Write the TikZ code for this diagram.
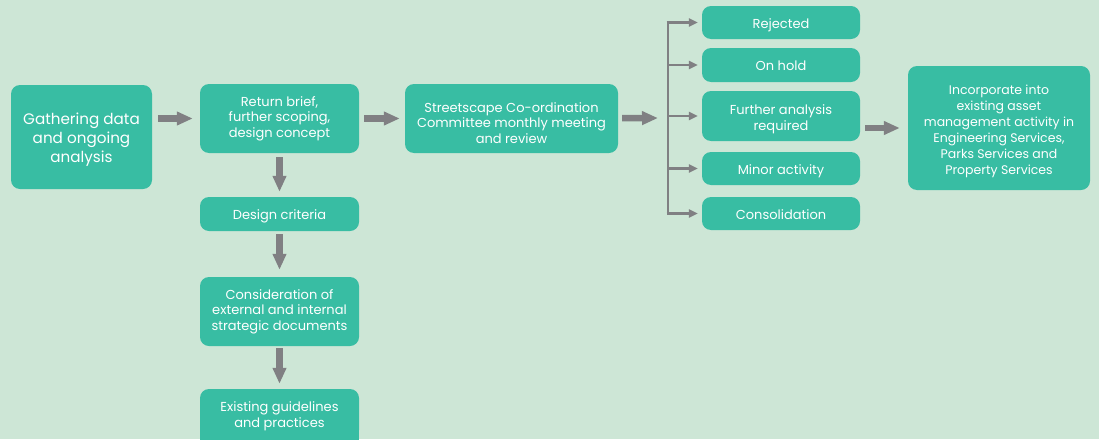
\documentclass[tikz,border=0pt]{standalone}
\usepackage{fontspec}
\setmainfont{Poppins}
\usetikzlibrary{arrows.meta}
\definecolor{bg}{HTML}{CDE6D6}
\definecolor{boxc}{HTML}{38BDA3}
\definecolor{arr}{HTML}{808083}
\newcommand\dn[1]{\rule{0pt}{#1}}
\tikzset{
  box/.style={fill=boxc, rounded corners=9pt, text=white, align=center,
    font=\fontsize{13}{15.7}\selectfont, inner sep=2pt},
  oneline/.style={text height=13.5pt, text depth=2.5pt},
  bigarrow/.style={draw=arr, line width=6.5pt, -{Triangle[length=16pt,width=13pt]}},
  thinarrow/.style={draw=arr, line width=2.6pt, -{Triangle[length=9pt,width=8pt]}},
  busline/.style={draw=arr, line width=2.6pt},
}
\begin{document}
\begin{tikzpicture}[x=1pt,y=-1pt]
\fill[bg] (0,0) rectangle (1099,439);
\useasboundingbox (0,0) rectangle (1099,439);

\node[box, minimum width=141pt, minimum height=104pt, font=\fontsize{15.2}{19.2}\selectfont] (gather) at (81.5,137) {\dn{17pt}Gathering data\\and ongoing\\analysis};
\node[box, minimum width=159pt, minimum height=69pt] (ret) at (279.5,118.5) {Return brief,\\further scoping,\\design concept};
\node[box, oneline, minimum width=159pt, minimum height=34pt] (crit) at (279.5,214) {Design criteria};
\node[box, minimum width=159pt, minimum height=69pt] (cons) at (279.5,311.5) {Consideration of\\external and internal\\strategic documents};
\fill[boxc] (200,414) rectangle (359,445);
\node[box, minimum width=159pt, minimum height=50pt] (exist) at (279.5,414) {\dn{14pt}Existing guidelines\\and practices};

\node[box, minimum width=213pt, minimum height=69pt] (street) at (511.5,118.5) {\dn{19pt}Streetscape Co-ordination\\Committee monthly meeting\\and review};

\node[box, oneline, minimum width=158pt, minimum height=33pt] (rej) at (781,22.5) {Rejected};
\node[box, oneline, minimum width=158pt, minimum height=34pt] (hold) at (781,65) {On hold};
\node[box, minimum width=158pt, minimum height=50pt] (fur) at (781,116) {\dn{16pt}Further analysis\\required};
\node[box, oneline, minimum width=158pt, minimum height=33pt] (minor) at (781,168.5) {Minor activity};
\node[box, oneline, minimum width=158pt, minimum height=33pt] (consol) at (781,213.5) {Consolidation};

\node[box, minimum width=182pt, minimum height=124pt, font=\fontsize{12.5}{16}\selectfont] (inc) at (999,128) {\dn{16pt}Incorporate into\\existing asset\\management activity in\\Engineering Services,\\Parks Services and\\Property Services};

\draw[bigarrow, shorten <=6pt, shorten >=7pt] (gather.east |- ret) -- (ret);
\draw[bigarrow, shorten <=5pt, shorten >=5pt] (ret) -- (street);
\draw[bigarrow, shorten <=4pt, shorten >=5pt] (ret) -- (crit);
\draw[bigarrow, shorten <=3pt, shorten >=7pt] (crit) -- (cons);
\draw[bigarrow, shorten <=2pt, shorten >=5pt] (cons) -- (exist);

\coordinate (bus) at (668,118);
\draw[bigarrow, shorten <=4pt, shorten >=10pt] (street) -- (bus);
\draw[busline] (bus |- rej) -- (bus |- consol);
\draw[thinarrow, shorten >=4pt] ([xshift=-1.3pt]bus |- rej) -- (rej);
\draw[thinarrow, shorten >=4pt] (bus |- hold) -- (hold);
\draw[thinarrow, shorten >=4pt] (bus |- fur) -- (fur);
\draw[thinarrow, shorten >=4pt] (bus |- minor) -- (minor);
\draw[thinarrow, shorten >=4pt] ([xshift=-1.3pt]bus |- consol) -- (consol);

\draw[bigarrow, shorten <=5pt, shorten >=8pt] (fur.east |- inc) -- (inc);
\end{tikzpicture}
\end{document}
